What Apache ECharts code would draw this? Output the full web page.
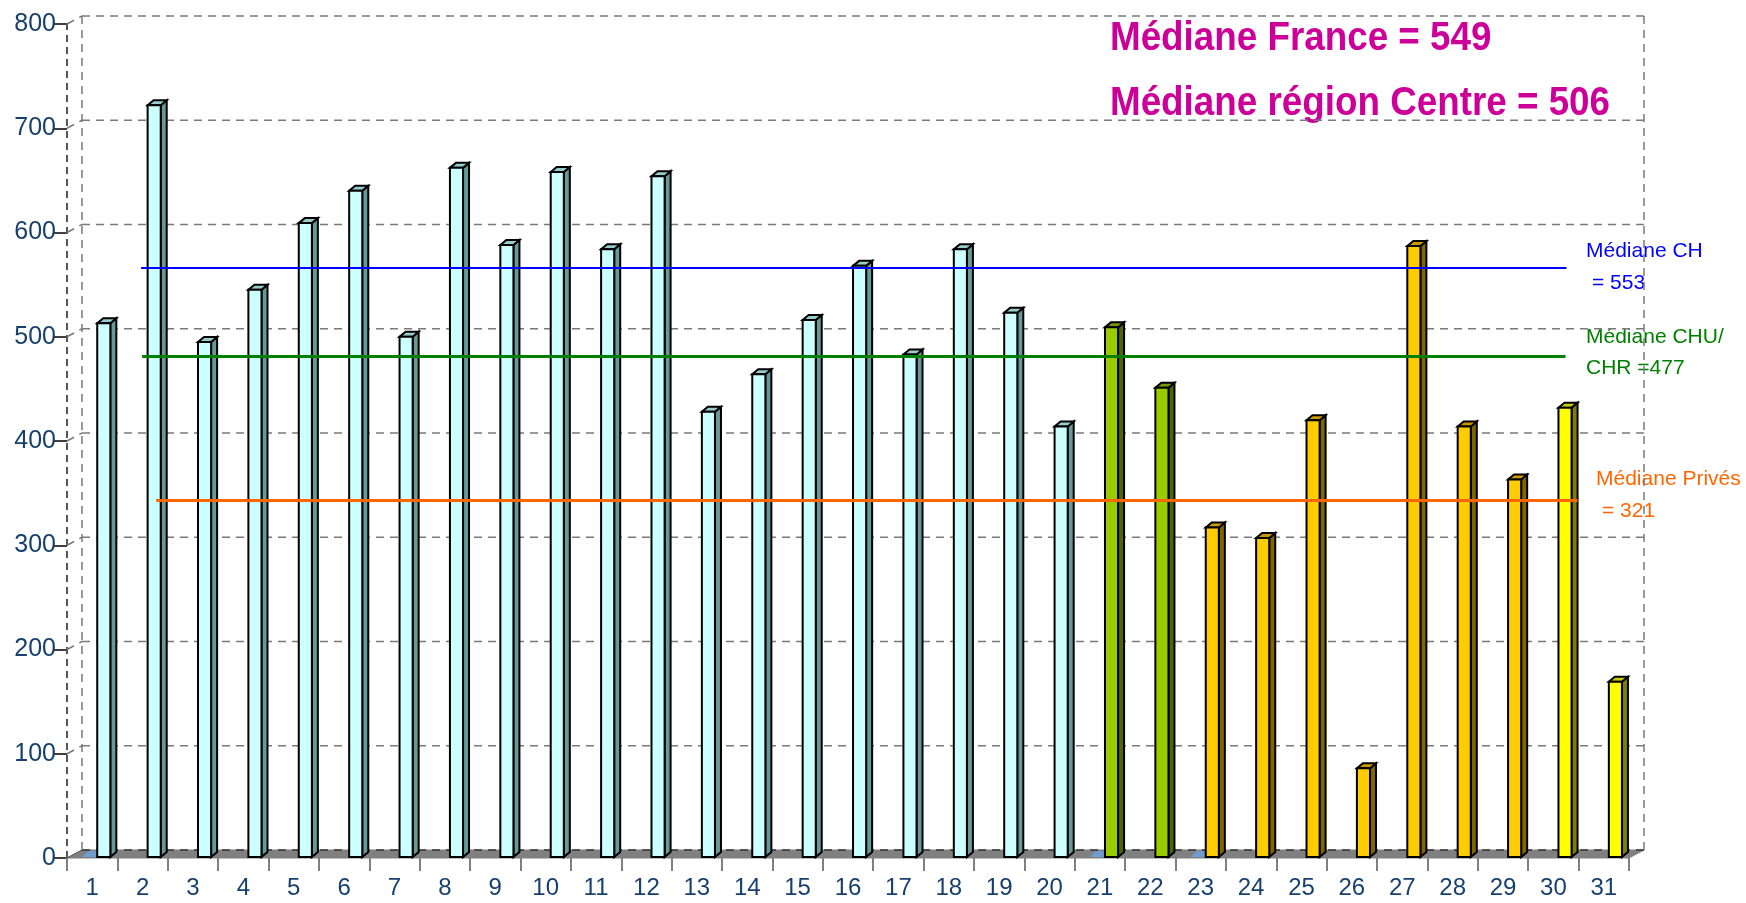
<!DOCTYPE html>
<html>
<head>
<meta charset="utf-8">
<title>Médianes</title>
<script src="https://cdn.jsdelivr.net/npm/echarts/dist/echarts.min.js"></script>
<style>
  html, body { margin: 0; padding: 0; background: #fff; }
  #chart { width: 1746px; height: 903px; }
</style>
</head>
<body>
<div id="chart"></div>
<script>
// data
const categories = ["1", "2", "3", "4", "5", "6", "7", "8", "9", "10", "11", "12", "13", "14", "15", "16",
  "17", "18", "19", "20", "21", "22", "23", "24", "25", "26", "27", "28", "29", "30", "31"];
const values = [513, 722, 495, 545, 609, 640, 500, 662, 588, 658, 584, 654, 428, 464, 516, 568,
  483, 584, 523, 414, 509, 451, 317, 307, 420, 86, 587, 414, 363, 432, 169];
const groups = [
  "CH", "CH", "CH", "CH", "CH", "CH", "CH", "CH", "CH", "CH", "CH", "CH", "CH", "CH", "CH", "CH",
  "CH", "CH", "CH", "CH", "CHU", "CHU", "PRIVE", "PRIVE", "PRIVE", "PRIVE", "PRIVE", "PRIVE", "PRIVE",
  "AUTRE", "AUTRE"];
const groupStarts = [0, 20, 22];
const yTicks = [0, 100, 200, 300, 400, 500, 600, 700, 800];

// median lines, drawn where they sit on the picture
const medianNames = ["Médiane CH", "Médiane CHU/CHR", "Médiane Privés"];
const medianLevels = [566, 481, 343];
const medianFrom = [1.47, 1.49, 1.77];
const medianTo = [29.76, 29.74, 29.98];

const groupColors = {
  CH: { front: "#CCFFFF", side: "#669999", top: "#99CCCC" },
  CHU: { front: "#99CC00", side: "#4D6600", top: "#7A9900" },
  PRIVE: { front: "#FFCC00", side: "#806600", top: "#CC9900" },
  AUTRE: { front: "#FFFF00", side: "#808000", top: "#CCCC00" },
};
const medianColors = ["#0000FF", "#008000", "#FF6600"];
const medianWidths = [2, 3, 3];

const DX = 15, DY = -8; // depth of the floor / walls
const BX = 6, BY = -5;  // depth of a bar

function renderWall(params, api) {
  const v = api.value(1);
  const a = api.coord([0, v]);
  const b = api.coord([categories.length, v]);
  const dash = { stroke: "#7a7a7a", lineWidth: 1.5, lineDash: [8, 6], fill: null };
  const children = [];

  if (v === 0) {
    const top = api.coord([0, yTicks[yTicks.length - 1]])[1];
    children.push({
      type: "polygon",
      shape: { points: [[a[0], a[1]], [b[0], b[1]], [b[0] + DX, b[1] + DY], [a[0] + DX, a[1] + DY]] },
      style: { fill: "#808080", stroke: "#808080", lineWidth: 1 },
    });
    children.push({
      type: "line",
      shape: { x1: a[0] + DX, y1: a[1] + DY, x2: b[0] + DX, y2: b[1] + DY },
      style: { stroke: "#333", lineWidth: 1.5, lineDash: [8, 6] },
    });
    // walls
    children.push({ type: "line", shape: { x1: a[0] + DX, y1: a[1] + DY, x2: a[0] + DX, y2: top + DY }, style: dash });
    children.push({ type: "line", shape: { x1: b[0] + DX, y1: b[1] + DY, x2: b[0] + DX, y2: top + DY }, style: dash });
    children.push({
      type: "line",
      shape: { x1: a[0], y1: a[1], x2: a[0], y2: top },
      style: { stroke: "#555", lineWidth: 2, lineDash: [7, 5] },
    });
    children.push({ type: "line", shape: { x1: a[0], y1: a[1], x2: a[0] + DX, y2: a[1] + DY }, style: { stroke: "#555", lineWidth: 1 } });
    return { type: "group", children };
  }

  children.push({ type: "line", shape: { x1: a[0] + DX, y1: a[1] + DY, x2: b[0] + DX, y2: b[1] + DY }, style: dash });
  children.push({ type: "line", shape: { x1: a[0], y1: a[1], x2: a[0] + DX, y2: a[1] + DY }, style: dash });
  return { type: "group", children };
}

function renderBar(params, api) {
  const i = api.value(0);
  const c = groupColors[groups[i]];
  const base = api.coord([i, 0]);
  const top = api.coord([i, api.value(1)]);
  const band = api.size([1, 0])[0];
  const x0 = base[0] + band * 0.1;
  const x1 = x0 + band * 0.26;
  const y0 = base[1] - 1;
  const y1 = top[1];
  const edge = { stroke: "#000", lineWidth: 2, lineJoin: "miter" };

  return {
    type: "group",
    children: [
      {
        type: "polygon",
        shape: { points: [[x1, y0], [x1 + BX, y0 + BY], [x1 + BX, y1 + BY], [x1, y1]] },
        style: Object.assign({ fill: c.side }, edge),
      },
      {
        type: "polygon",
        shape: { points: [[x0, y1], [x1, y1], [x1 + BX, y1 + BY], [x0 + BX, y1 + BY]] },
        style: Object.assign({ fill: c.top }, edge),
      },
      {
        type: "rect",
        shape: { x: x0, y: y1, width: x1 - x0, height: y0 - y1 },
        style: Object.assign({ fill: c.front }, edge),
      },
    ],
  };
}

// flat blue stubs lying on the floor at the start of each group
function renderStub(params, api) {
  const p = api.coord([api.value(0), 0]);
  const band = api.size([1, 0])[0];
  const x = p[0] - band * 0.2;
  const y = p[1] - 1;
  return {
    type: "polygon",
    shape: { points: [[x, y], [x + 13, y], [x + 19, y - 6], [x + 6, y - 6]] },
    style: { fill: "#6F9BD1" },
  };
}

const chart = echarts.init(document.getElementById("chart"));

const labelFont = "'Liberation Sans'";

const option = {
  animation: false,
  backgroundColor: "#fff",
  grid: { left: 67, right: 117, top: 24, bottom: 45 },
  xAxis: [
    {
      type: "category",
      data: categories,
      axisLine: { show: false },
      axisTick: { show: true, length: 13, lineStyle: { color: "#808080", width: 2 } },
      axisLabel: { margin: 18, fontSize: 24, color: "#17406E", fontFamily: labelFont, interval: 0 },
      splitLine: { show: false },
    },
    { type: "value", min: 0, max: categories.length, show: false },
  ],
  yAxis: {
    type: "value",
    min: 0,
    max: 800,
    interval: 100,
    axisLine: { show: false },
    axisTick: { show: true, length: 13, lineStyle: { color: "#000", width: 1.5 } },
    axisLabel: { margin: 11, fontSize: 25, color: "#17406E", fontFamily: labelFont },
    splitLine: { show: false },
  },
  series: [
    {
      type: "custom",
      name: "walls",
      xAxisIndex: 1,
      renderItem: renderWall,
      data: yTicks.map((v) => [0, v]),
      z: 1,
      silent: true,
    },
    {
      type: "custom",
      name: "stubs",
      renderItem: renderStub,
      data: groupStarts.map((i) => [i, 0]),
      z: 2,
      silent: true,
    },
    {
      type: "custom",
      name: "values",
      renderItem: renderBar,
      data: values.map((v, i) => [i, v]),
      z: 3,
    },
  ].concat(
    medianNames.map((name, k) => ({
      type: "line",
      name,
      xAxisIndex: 1,
      data: [[medianFrom[k], medianLevels[k]], [medianTo[k], medianLevels[k]]],
      symbol: "none",
      lineStyle: { color: medianColors[k], width: medianWidths[k] },
      z: 5,
      silent: true,
    }))
  ),
  graphic: [
    {
      type: "text", x: 1110, y: 39, scaleX: 0.92,
      style: { text: "Médiane France = 549", font: "bold 40px 'Liberation Sans'", fill: "#CC0099", verticalAlign: "middle" },
    },
    {
      type: "text", x: 1110, y: 104, scaleX: 0.92,
      style: { text: "Médiane région Centre = 506", font: "bold 40px 'Liberation Sans'", fill: "#CC0099", verticalAlign: "middle" },
    },
    {
      type: "text", x: 1586, y: 251,
      style: { text: "Médiane CH", font: "21px 'Liberation Sans'", fill: "#0000FF", verticalAlign: "middle" },
    },
    {
      type: "text", x: 1592, y: 283,
      style: { text: "= 553", font: "21px 'Liberation Sans'", fill: "#0000FF", verticalAlign: "middle" },
    },
    {
      type: "text", x: 1586, y: 337,
      style: { text: "Médiane CHU/", font: "21px 'Liberation Sans'", fill: "#008000", verticalAlign: "middle" },
    },
    {
      type: "text", x: 1586, y: 368,
      style: { text: "CHR =477", font: "21px 'Liberation Sans'", fill: "#008000", verticalAlign: "middle" },
    },
    {
      type: "text", x: 1596, y: 479,
      style: { text: "Médiane Privés", font: "21px 'Liberation Sans'", fill: "#FF6600", verticalAlign: "middle" },
    },
    {
      type: "text", x: 1602, y: 511,
      style: { text: "= 321", font: "21px 'Liberation Sans'", fill: "#FF6600", verticalAlign: "middle" },
    },
  ],
};

chart.setOption(option);
window.addEventListener("resize", chart.resize);
</script>
</body>
</html>
